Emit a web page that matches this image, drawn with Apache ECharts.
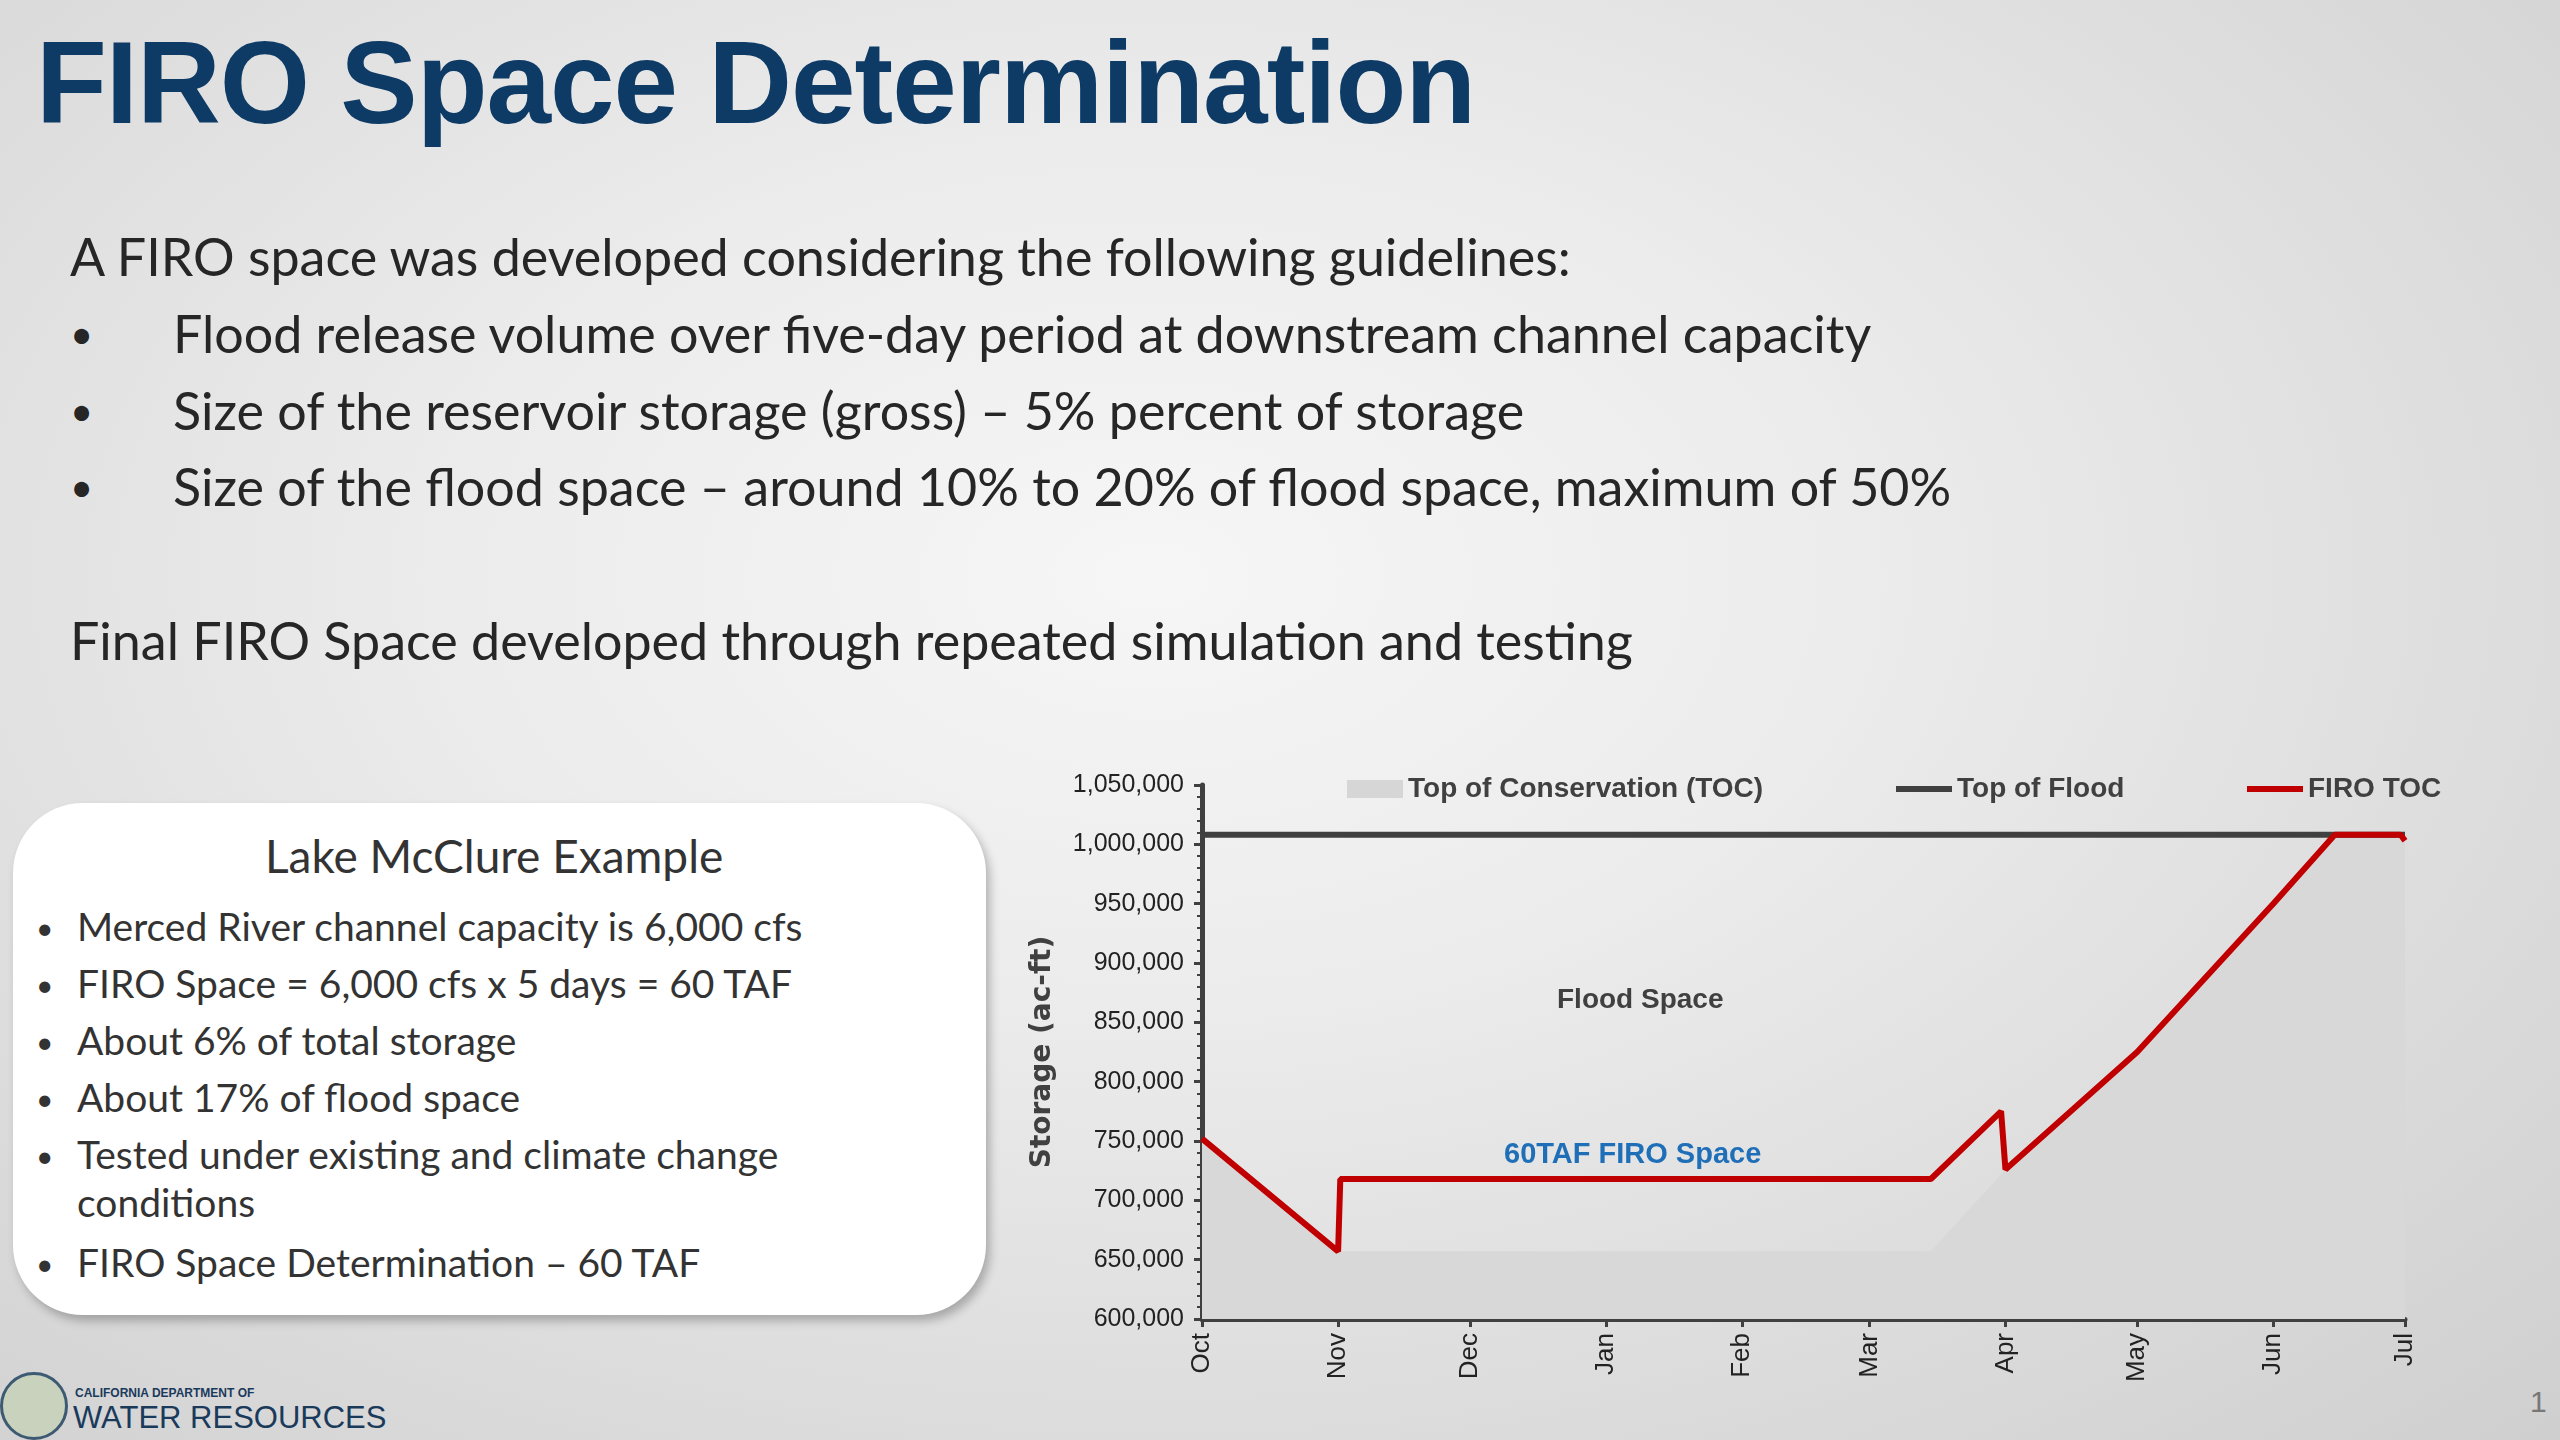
<!DOCTYPE html>
<html><head><meta charset="utf-8">
<script src="https://cdn.jsdelivr.net/npm/echarts@6/dist/echarts.min.js"></script>
<style>
html,body{margin:0;padding:0;width:2560px;height:1440px;overflow:hidden;}
body{background:radial-gradient(ellipse at 45% 40%, #f6f6f6 0%, #ececec 35%, #dadada 75%, #cfcfcf 100%);font-family:Lato,"Open Sans",sans-serif;position:relative;}
#title{position:absolute;left:36px;top:16px;font-family:"Liberation Sans",Arial,sans-serif;font-weight:bold;font-size:116px;color:#0d3b66;letter-spacing:-1px;}
.t{position:absolute;font-size:52px;color:#262626;white-space:nowrap;}
.b{position:absolute;font-size:40px;color:#262626;left:70px;}
#box{position:absolute;left:13px;top:803px;width:973px;height:512px;background:#fff;border-radius:70px;box-shadow:4px 6px 10px rgba(0,0,0,0.25);}
.bx{position:absolute;font-size:39px;color:#333;white-space:nowrap;}
#chart{position:absolute;left:0;top:0;width:2560px;height:1440px;}
</style></head><body>
<div id="title">FIRO Space Determination</div>
<div class="t" style="left:70px;top:225px">A FIRO space was developed considering the following guidelines:</div>
<div class="b" style="top:310px">•</div><div class="t" style="left:173px;top:302px">Flood release volume over five-day period at downstream channel capacity</div>
<div class="b" style="top:387px">•</div><div class="t" style="left:173px;top:379px">Size of the reservoir storage (gross) – 5% percent of storage</div>
<div class="b" style="top:463px">•</div><div class="t" style="left:173px;top:455px">Size of the flood space – around 10% to 20% of flood space, maximum of 50%</div>
<div class="t" style="left:70px;top:609px">Final FIRO Space developed through repeated simulation and testing</div>
<div id="box"></div>
<div class="bx" style="left:265px;top:828px;font-size:46px">Lake McClure Example</div>
<div id="bl"></div>
<div style="position:absolute;left:0;top:1372px;width:62px;height:62px;border-radius:50%;border:3px solid #3d5a73;background:#c8d2bd"></div>
<div style="position:absolute;left:75px;top:1386px;font-size:12px;font-weight:bold;color:#1a3a5c;font-family:'Liberation Sans'">CALIFORNIA DEPARTMENT OF</div>
<div style="position:absolute;left:73px;top:1400px;font-size:31px;color:#1a3a5c;font-family:'Liberation Sans'">WATER RESOURCES</div>
<div style="position:absolute;left:2530px;top:1385px;font-size:30px;color:#777;font-family:'Liberation Sans'">1</div>
<div id="chart"></div>
<script>
var boxBullets = ["Merced River channel capacity is 6,000 cfs","FIRO Space = 6,000 cfs x 5 days = 60 TAF","About 6% of total storage","About 17% of flood space","Tested under existing and climate change\nconditions","FIRO Space Determination – 60 TAF"];
var boxTops = [902,959,1016,1073,1130,1238];
var bl = document.getElementById('bl');
boxBullets.forEach(function(s,i){
  var d=document.createElement('div');d.className='bx';d.style.left='36px';d.style.top=boxTops[i]+'px';d.style.fontSize='30px';d.style.lineHeight='50px';d.textContent='•';bl.appendChild(d);
  var e=document.createElement('div');e.className='bx';e.style.left='77px';e.style.top=boxTops[i]+'px';e.style.lineHeight='48px';e.innerHTML=s.replace('\n','<br>');bl.appendChild(e);
});

var firoDates = ['2023-10-01','2023-11-01','2023-11-01 12:00','2024-03-15','2024-03-31','2024-04-01','2024-05-01','2024-06-01','2024-06-15','2024-06-30','2024-07-01'];
var firoValues = [752000,657000,718000,718000,775000,726000,825000,950000,1008000,1008000,1003000];
var tocDates = ['2023-10-01','2023-11-01','2024-03-15','2024-04-01','2024-05-01','2024-06-01','2024-06-15','2024-06-30','2024-07-01'];
var tocValues = [752000,657000,657000,726000,825000,950000,1008000,1008000,1003000];
var floodDates = ['2023-10-01','2024-07-01'];
var floodValues = [1008000,1008000];
var monthLabels = ['Oct','Nov','Dec','Jan','Feb','Mar','Apr','May','Jun','Jul'];

function pairs(d,v){return d.map(function(x,i){return [x,v[i]];});}
var chart = echarts.init(document.getElementById('chart'),null,{renderer:'canvas'});
var lf = {fontFamily:'Liberation Sans',fontWeight:'bold',fontSize:28,color:'#404040'};
chart.setOption({
  backgroundColor:'transparent',
  animation:false,
  grid:{left:1202,right:155,top:785,bottom:121},
  legend:[
    {left:1342,top:770,itemWidth:56,itemHeight:18,itemGap:0,textStyle:lf,data:[{name:'Top of Conservation (TOC)',icon:'rect',itemStyle:{color:'#d6d6d6'}}]},
    {left:1891,top:770,itemWidth:56,itemHeight:6,textStyle:lf,data:[{name:'Top of Flood',icon:'rect'}]},
    {left:2242,top:770,itemWidth:56,itemHeight:6,textStyle:lf,data:[{name:'FIRO TOC',icon:'rect'}]}
  ],
  xAxis:{type:'time',min:'2023-10-01',max:'2024-07-01',minInterval:27*86400000,maxInterval:32*86400000,
    axisLine:{lineStyle:{color:'#404040',width:5}},axisTick:{show:true,length:8,lineStyle:{color:'#404040',width:3}},
    splitLine:{show:false},
    axisLabel:{rotate:90,fontSize:26,color:'#222',fontFamily:'Liberation Sans',margin:14,
      formatter:function(v){return monthLabels[(new Date(v).getMonth()+3)%12];},hideOverlap:false}},
  yAxis:{type:'value',min:600000,max:1050000,interval:50000,name:'Storage (ac-ft)',nameLocation:'middle',nameGap:145,
    nameTextStyle:{fontSize:28,fontWeight:'bold',color:'#404040',fontFamily:'DejaVu Sans'},
    axisLine:{show:true,lineStyle:{color:'#404040',width:5}},axisTick:{show:true,length:8,lineStyle:{color:'#404040',width:3}},
    minorTick:{show:true,splitNumber:5,length:5,lineStyle:{color:'#404040',width:2}},
    splitLine:{show:false},
    axisLabel:{fontSize:25,color:'#222',fontFamily:'Liberation Sans',margin:18,formatter:function(v){return v.toLocaleString('en-US');}}},
  series:[
    {name:'Top of Conservation (TOC)',type:'line',data:pairs(tocDates,tocValues),symbol:'none',lineStyle:{width:0},
      areaStyle:{color:'#d8d8d8',opacity:1,origin:'start'},itemStyle:{color:'#d6d6d6'},z:1},
    {name:'Top of Flood',type:'line',data:pairs(floodDates,floodValues),symbol:'none',lineStyle:{color:'#404040',width:6},itemStyle:{color:'#404040'},z:2},
    {name:'FIRO TOC',type:'line',data:pairs(firoDates,firoValues),symbol:'none',lineStyle:{color:'#c00000',width:6},itemStyle:{color:'#c00000'},z:3}
  ],
  graphic:[
    {type:'text',left:1557,top:986,style:{text:'Flood Space',font:'bold 28px "Liberation Sans"',fill:'#404040'}},
    {type:'text',left:1504,top:1140,style:{text:'60TAF FIRO Space',font:'bold 29px "Liberation Sans"',fill:'#1f6fb8'}},
    {type:'text',left:1481,top:1275,style:{text:'Conservation  Space',font:'bold 29px "Liberation Sans"',fill:'#404040'}}
  ]
});
</script>
</body></html>
